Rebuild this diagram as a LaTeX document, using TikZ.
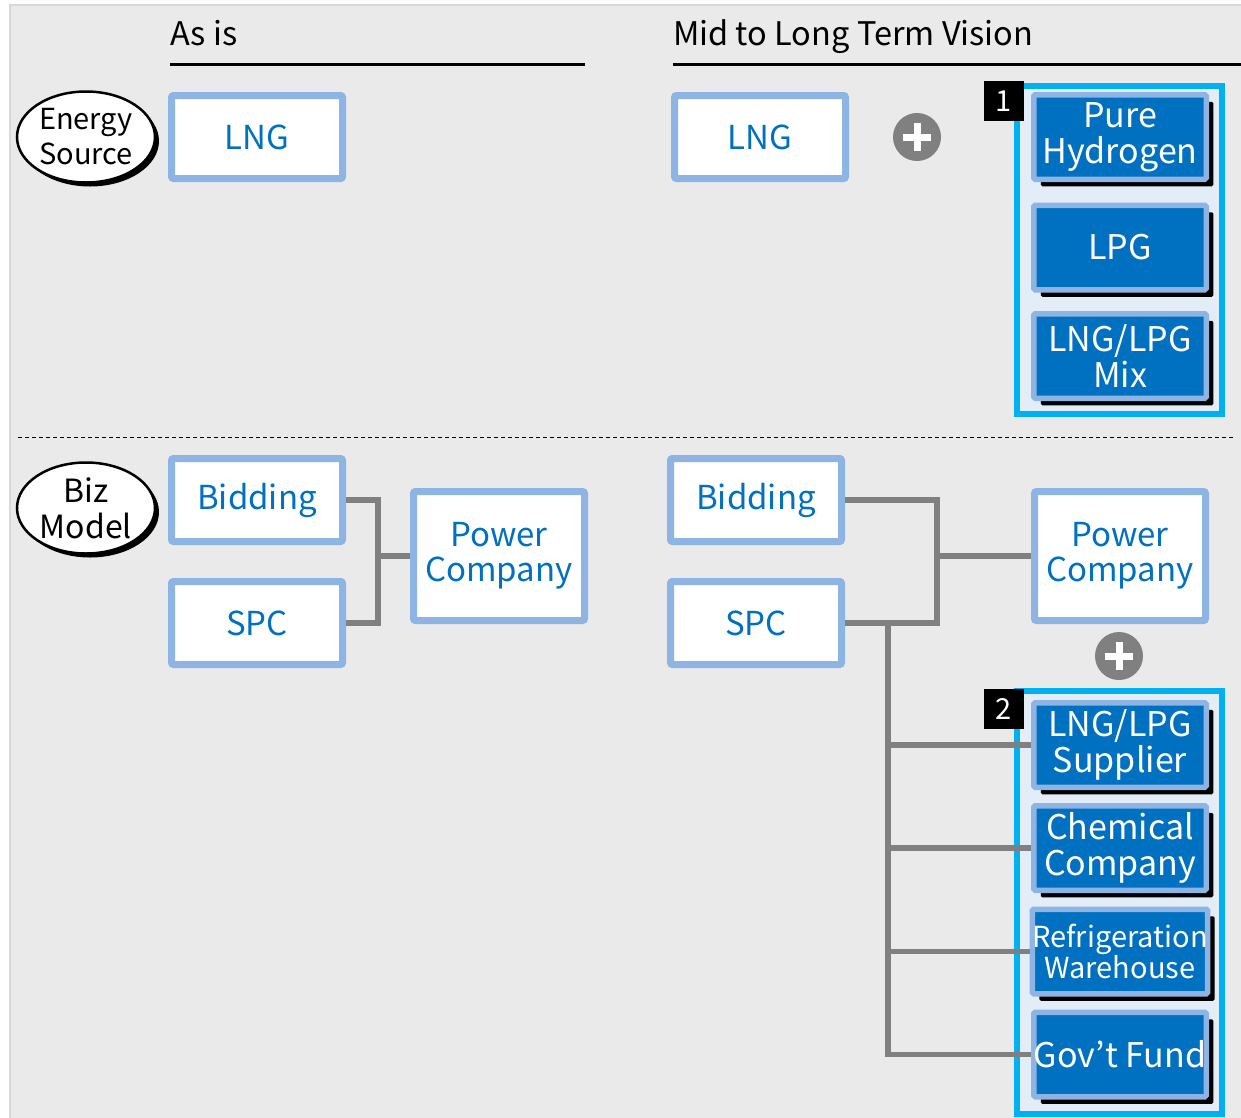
\documentclass[tikz,border=0pt]{standalone}
\usepackage{fontspec}
\setmainfont{Noto Sans CJK JP}
\usetikzlibrary{shadows,shapes.geometric}
\definecolor{bgc}{HTML}{EAEAEA}
\definecolor{lb}{HTML}{8EB4E3}
\definecolor{tblue}{HTML}{0070C0}
\definecolor{cyanb}{HTML}{00B0F0}
\definecolor{cfill}{HTML}{E2EDF8}
\definecolor{gr}{HTML}{808080}
\tikzset{
  wbox/.style={draw=lb, fill=white, line width=7pt, rounded corners=2pt, minimum width=171pt, minimum height=83pt, inner sep=0pt, text=tblue, font=\fontsize{33}{35}\selectfont, align=center},
  bbox/.style={draw=lb, fill=tblue, line width=5.5pt, rounded corners=1.5pt, minimum width=172.5pt, minimum height=84.5pt, inner sep=0pt, text=white, font=\fontsize{34}{36}\selectfont, align=center, drop shadow={shadow xshift=7pt, shadow yshift=-7pt, opacity=1, fill=black}},
  oval/.style={ellipse, draw=black, fill=white, line width=2.5pt, minimum width=138pt, minimum height=91pt, inner sep=0pt, align=center, font=\fontsize{29}{35}\selectfont, drop shadow={shadow xshift=4pt, shadow yshift=-4pt, opacity=1, fill=black}},
  cont/.style={draw=cyanb, fill=cfill, line width=6pt, minimum width=205pt, inner sep=0pt},
  numlab/.style={fill=black, text=white, minimum size=40pt, inner sep=0pt, font=\fontsize{29}{30}\selectfont},
  plusc/.style={circle, fill=gr, minimum size=48pt, inner sep=0pt, path picture={\draw[white, line width=7pt] ([xshift=-14pt]path picture bounding box.center) -- ([xshift=14pt]path picture bounding box.center); \draw[white, line width=7pt] ([yshift=-14pt]path picture bounding box.center) -- ([yshift=14pt]path picture bounding box.center);}},
  conn/.style={draw=gr, line width=5.5pt},
  head/.style={anchor=base west, font=\fontsize{32.5}{36}\selectfont, inner sep=0pt}
}
\begin{document}
\begin{tikzpicture}[x=1pt,y=-1pt]
\useasboundingbox (0,0) rectangle (1241,1117);
\fill[white] (0,0) rectangle (1241,1117);
\draw[fill=bgc, draw=black!15, line width=1.5pt] (10,5) rectangle (1243,1119);

% headers
\node[head] (h1) at (170,45) {As is};
\node[head] (h2) at (673,45) {Mid to Long Term Vision};
\draw[line width=3pt] (170,64) -- (585,64);
\draw[line width=3pt] (673,64) -- (1241,64);

% separator
\draw[dashed, dash pattern=on 4pt off 3pt, line width=1pt] (18,437) -- (1233,437);

% ovals
\node[oval] (es) at (86,137) {Energy\\Source};
\node[oval, font=\fontsize{32}{36}\selectfont] (bm) at (86,508) {Biz\\Model};

% As is
\node[wbox] (aLNG) at (257,137) {LNG};
\node[wbox] (aBid) at (257,500) {Bidding};
\node[wbox] (aSPC) at (257,623) {SPC};
\node[wbox, minimum height=129pt] (aPow) at (499,556) {Power\\Company};

% Vision
\node[wbox] (vLNG) at (760,137) {LNG};
\node[plusc] (p1) at (917,137) {};
\node[wbox] (vBid) at (756,500) {Bidding};
\node[wbox] (vSPC) at (756,623) {SPC};
\node[wbox, minimum height=129pt] (vPow) at (1120,556) {Power\\Company};
\node[plusc] (p2) at (1119,656) {};

% containers
\node[cont, minimum height=328pt] (c1) at (1119.5,250) {};
\node[cont, minimum height=423pt] (c2) at (1119.5,902.5) {};

% connectors
\coordinate (j1) at (378,556);
\draw[conn] (aBid.east) -| (j1) |- (aSPC.east);
\draw[conn] (j1) -- (aPow.west);
\coordinate (j2) at (937,556);
\draw[conn] (vBid.east) -| (j2) |- (vSPC.east);
\draw[conn] (j2) -- (vPow.west);
\coordinate (t) at (888,623);

% blue boxes
\node[bbox] (ph) at (1120,137) {Pure\\Hydrogen};
\node[bbox] (lpg) at (1120,247.5) {LPG};
\node[bbox] (mix) at (1120,356) {LNG/LPG\\Mix};
\node[bbox] (sup) at (1120,745) {LNG/LPG\\Supplier};
\node[bbox] (chem) at (1120,848) {Chemical\\Company};
\node[bbox, font=\fontsize{29}{31}\selectfont] (ref) at (1120,951.5) {Refrigeration\\Warehouse};
\node[bbox] (gov) at (1120,1054.5) {Gov’t Fund};

\draw[conn] (t) |- (sup.west);
\draw[conn] (t) |- (chem.west);
\draw[conn] (t) |- (ref.west);
\draw[conn] (t) |- (gov.west);

% number labels
\node[numlab] (n1) at (1003.5,101) {1};
\node[numlab] (n2) at (1003.5,708.5) {2};
\end{tikzpicture}
\end{document}
